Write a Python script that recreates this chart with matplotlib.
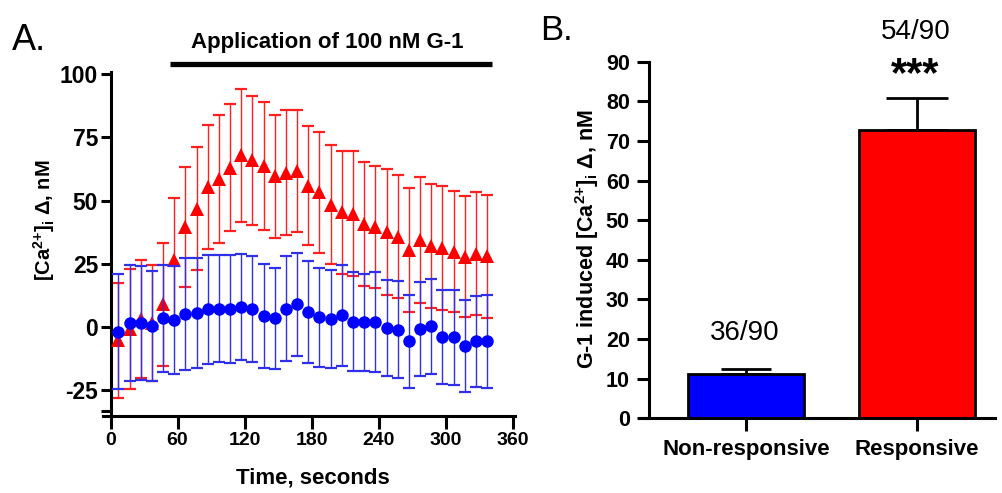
import matplotlib
matplotlib.use('Agg')
import matplotlib.pyplot as plt
from matplotlib.ticker import FixedLocator

plt.rcParams['font.family'] = ['Liberation Sans', 'DejaVu Sans']
plt.rcParams['mathtext.fontset'] = 'custom'
plt.rcParams['mathtext.rm'] = 'Liberation Sans:bold'
plt.rcParams['mathtext.bf'] = 'Liberation Sans:bold'
plt.rcParams['mathtext.it'] = 'Liberation Sans:bold'
plt.rcParams['mathtext.default'] = 'bf'
plt.rcParams['axes.unicode_minus'] = False

# ---------------- Panel A data ----------------
time_s = [7, 17, 27, 37, 47, 57, 67, 77, 87, 97, 107, 117, 127, 137, 147, 157, 167,
          177, 187, 197, 207, 217, 227, 237, 247, 257, 267, 277, 287, 297, 307, 317,
          327, 337]
resp_mean = [-5.3, -0.8, 3.1, 1.5, 9.0, 26.6, 39.6, 46.8, 55.5, 58.5, 63.0, 67.8,
             66.0, 63.7, 59.5, 61.0, 61.7, 55.9, 53.2, 48.4, 45.4, 44.8, 40.9, 39.6,
             37.6, 35.7, 30.3, 34.4, 32.2, 31.3, 29.8, 27.8, 29.0, 28.0]
resp_sem = [22.8, 23.7, 23.2, 23.0, 24.2, 24.5, 23.7, 24.4, 24.5, 25.2, 25.0, 26.2,
            25.5, 25.3, 24.2, 24.7, 24.2, 23.6, 24.0, 23.6, 24.3, 24.6, 24.5, 24.2,
            24.8, 24.3, 24.5, 25.0, 24.5, 24.5, 24.0, 24.0, 24.2, 24.3]
nonresp_mean = [-1.8, 1.6, 1.5, 0.4, 3.4, 2.8, 5.1, 5.5, 7.0, 7.3, 7.0, 7.9, 7.0,
                4.4, 3.5, 7.3, 9.0, 5.8, 3.8, 3.1, 4.7, 2.1, 1.8, 2.1, -0.4, -1.0,
                -5.7, -0.8, 0.3, -4.0, -4.0, -7.5, -5.7, -5.7]
nonresp_sem = [22.6, 22.8, 22.5, 21.8, 21.3, 21.5, 22.0, 21.8, 21.5, 21.2, 21.3, 21.1,
               20.9, 20.6, 20.0, 20.9, 20.4, 20.2, 19.7, 19.4, 20.0, 19.5, 19.3, 19.7,
               18.9, 19.0, 18.2, 18.5, 18.7, 18.5, 18.8, 18.2, 18.0, 18.3]
app_start, app_end = 53, 341
app_label = 'Application of 100 nM G-1'
xticksA = [0, 60, 120, 180, 240, 300, 360]
yticksA = [-25, 0, 25, 50, 75, 100]

# ---------------- Panel B data ----------------
bar_groups = ['Non-responsive', 'Responsive']
bar_values = [11.1, 72.8]
bar_errors = [1.3, 8.0]
bar_counts = ['36/90', '54/90']
bar_colors = ['#0000ff', '#ff0000']
yticksB = [0, 10, 20, 30, 40, 50, 60, 70, 80, 90]

fig = plt.figure(figsize=(10.03, 4.93), dpi=100)

# ================= Panel A =================
axA = fig.add_axes([102.7 / 1003, 1 - 415.6 / 493, 412.3 / 1003, (415.6 - 72) / 493])
axA.errorbar(time_s, resp_mean, yerr=resp_sem, fmt='none',
             ecolor='#ff2020', elinewidth=1.0, capsize=4, capthick=1.6, zorder=2)
axA.plot(time_s, resp_mean, linestyle='none', marker='^', color='#ff0000',
         markersize=10, markeredgewidth=0, zorder=3)
axA.errorbar(time_s, nonresp_mean, yerr=nonresp_sem, fmt='none',
             ecolor='#3030e8', elinewidth=1.0, capsize=4, capthick=1.6, zorder=4)
axA.plot(time_s, nonresp_mean, linestyle='none', marker='o', color='#0000ff',
         markersize=9, markeredgewidth=0, zorder=5)

axA.set_xlim(-7, 362)
axA.set_ylim(-35, 100.8)
for s in ['top', 'right']:
    axA.spines[s].set_visible(False)
axA.spines['left'].set_position(('data', 0))
for s in ['left', 'bottom']:
    axA.spines[s].set_linewidth(2.2)
axA.set_xticks(xticksA)
axA.set_yticks(yticksA)
axA.yaxis.set_minor_locator(FixedLocator([-33]))
axA.tick_params(axis='both', which='both', direction='out', width=2.2, color='black')
axA.tick_params(axis='x', length=9, pad=3, labelsize=14)
axA.tick_params(axis='y', which='major', length=7, pad=2, labelsize=16.5)
axA.tick_params(axis='y', which='minor', length=7)
for lab in axA.get_xticklabels() + axA.get_yticklabels():
    lab.set_fontweight('bold')

axA.plot([app_start, app_end], [104, 104], color='black', lw=3.8,
         solid_capstyle='butt', clip_on=False)
axA.text((app_start + app_end) / 2 - 3, 112.5, app_label, ha='center', va='center',
         fontsize=16, fontweight='bold', clip_on=False)

fig.text(313 / 1003, 1 - 478 / 493, 'Time, seconds', ha='center', va='center',
         fontsize=16, fontweight='bold')
fig.text(44 / 1003, 1 - 220 / 493, r'[Ca$^{2{+}}$]$_{i}$ Δ, nM', ha='center', va='center',
         rotation=90, fontsize=14.5, fontweight='bold')
fig.text(12 / 1003, 1 - 50 / 493, 'A.', ha='left', va='baseline', fontsize=26)

# ================= Panel B =================
axB = fig.add_axes([641.7 / 1003, 1 - 418.3 / 493, (995 - 641.7) / 1003, (418.3 - 61.7) / 493])
xpos = list(range(len(bar_groups)))
axB.bar(xpos, bar_values, width=0.68, color=bar_colors, edgecolor='black',
        linewidth=2, zorder=2)
for xi, v, e, cs in zip(xpos, bar_values, bar_errors, [18, 22]):
    axB.errorbar([xi], [v], yerr=[[0], [e]], fmt='none', ecolor='black',
                 elinewidth=2, capsize=cs, capthick=2, zorder=1)
axB.set_xlim(-0.61, 1.456)
axB.set_ylim(0, 90)
for s in ['top', 'right']:
    axB.spines[s].set_visible(False)
axB.spines['left'].set_position(('data', -0.566))
for s in ['left', 'bottom']:
    axB.spines[s].set_linewidth(2.2)
axB.set_xticks(xpos)
axB.set_xticklabels(bar_groups)
axB.set_yticks(yticksB)
axB.tick_params(axis='both', direction='out', width=2.2, color='black')
axB.tick_params(axis='x', length=9, pad=6, labelsize=16)
axB.tick_params(axis='y', length=9, pad=5, labelsize=15.5)
for lab in axB.get_xticklabels() + axB.get_yticklabels():
    lab.set_fontweight('bold')

axB.text(xpos[0] - 0.01, 21.5, bar_counts[0], ha='center', va='center', fontsize=20)
axB.text(xpos[1] - 0.01, 97.6, bar_counts[1], ha='center', va='center', fontsize=20,
         clip_on=False)
axB.text(xpos[1] - 0.01, 86.5, '***', ha='center', va='center', fontsize=30,
         fontweight='bold', clip_on=False)

fig.text(587 / 1003, 1 - 239 / 493, r'G-1 induced [Ca$^{2{+}}$]$_{i}$ Δ, nM',
         ha='center', va='center', rotation=90, fontsize=15.5, fontweight='bold')
fig.text(540 / 1003, 1 - 40 / 493, 'B.', ha='left', va='baseline', fontsize=25)

fig.savefig('out.png', dpi=100)
